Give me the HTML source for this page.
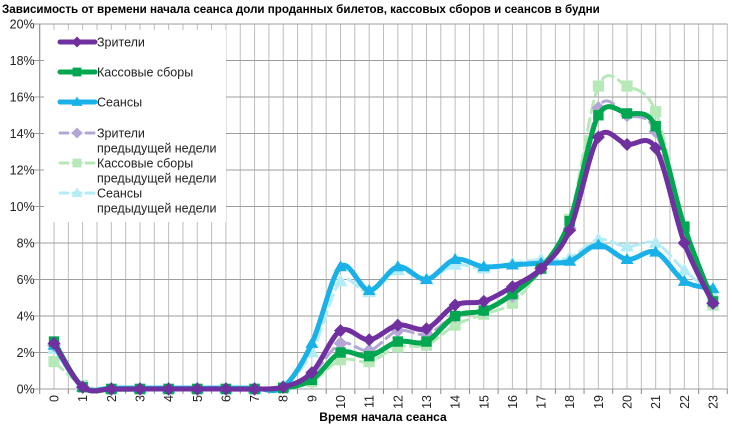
<!DOCTYPE html>
<html><head><meta charset="utf-8"><style>
html,body{margin:0;padding:0;background:#fff}
svg{display:block}
text{font-family:"Liberation Sans","DejaVu Sans",sans-serif}
</style></head><body>
<svg id="s" width="732" height="424" xmlns="http://www.w3.org/2000/svg"></svg>
<script>
const s=document.getElementById('s');
const L=39.7,R=727.3,T=24,B=389;
const cw=(R-L)/24;
const X=i=>L+cw*(i+0.5), Y=v=>B-(B-T)*v/20;
let h='';
h+='<text x="2" y="13" font-size="11.6" font-weight="bold" fill="#000">Зависимость от времени начала сеанса доли проданных билетов, кассовых сборов и сеансов в будни</text>';
for(let k=0;k<=48;k++){const x=L+k*cw/2;h+=`<line x1="${x}" y1="${T}" x2="${x}" y2="${B}" stroke="#bdbdbd" stroke-width="1"/>`;}
for(let v=0;v<=20;v+=2){const y=Y(v);h+=`<line x1="${L-6}" y1="${y}" x2="${R}" y2="${y}" stroke="#9e9e9e" stroke-width="1"/>`;
h+=`<text x="${L-5}" y="${y+4.5}" font-size="12.5" text-anchor="end" fill="#222">${v}%</text>`;}
h+=`<line x1="${L}" y1="${T}" x2="${L}" y2="${B}" stroke="#888"/>`;
for(let k=0;k<=24;k++){const x=L+k*cw;h+=`<line x1="${x}" y1="${B}" x2="${x}" y2="${B+5}" stroke="#888"/>`;}
for(let i=0;i<24;i++){h+=`<text transform="translate(${X(i)+4.5},${B+6}) rotate(-90)" font-size="12.5" text-anchor="end" fill="#222">${i}</text>`;}
h+=`<text x="383" y="421" font-size="12" font-weight="bold" text-anchor="middle" fill="#000">Время начала сеанса</text>`;
const D=[
 ['#b3ecf5',[2.2,0.2,0,0,0,0,0,0,0.2,2.0,5.9,5.3,6.5,6.0,6.8,6.6,6.9,7.1,7.2,8.2,7.8,8.0,6.5,5.2],'t',1],
 ['#b6e8b8',[1.5,0.2,0,0,0,0,0,0,0.1,0.4,1.6,1.5,2.3,2.4,3.5,4.1,4.7,6.6,9.3,16.6,16.6,15.2,8.8,4.6],'q',1],
 ['#b4a7d6',[2.4,0.1,0,0,0,0,0,0,0.1,0.8,2.5,2.1,3.2,3.0,4.0,4.3,5.1,6.6,8.8,15.4,15.0,14.1,8.0,4.7],'d',1],
 ['#1ab0e8',[2.4,0.1,0.05,0.05,0.05,0.05,0.05,0.05,0.1,2.5,6.7,5.4,6.7,6.0,7.1,6.7,6.8,6.9,7.0,7.9,7.1,7.5,5.9,5.5],'t',0],
 ['#00a650',[2.6,0.1,0,0,0,0,0,0,0.05,0.5,2.0,1.8,2.6,2.6,4.0,4.3,5.2,6.6,9.2,15.0,15.1,14.4,8.9,4.8],'q',0],
 ['#7030a0',[2.5,0.1,0,0,0,0,0,0,0.1,0.9,3.2,2.7,3.5,3.3,4.6,4.8,5.6,6.6,8.7,13.8,13.4,13.2,8.0,4.7],'d',0]
];
function path(v){const p=v.map((a,i)=>[X(i),Y(a)]);let d=`M${p[0][0]},${p[0][1]}`;
for(let i=0;i<p.length-1;i++){const p0=p[i-1]||p[i],p1=p[i],p2=p[i+1],p3=p[i+2]||p2;const t=0.16;
d+=`C${p1[0]+(p2[0]-p0[0])*t},${p1[1]+(p2[1]-p0[1])*t} ${p2[0]-(p3[0]-p1[0])*t},${p2[1]-(p3[1]-p1[1])*t} ${p2[0]},${p2[1]}`;}return d;}
function mk(t,x,y,c,sz){if(t==='d')return `<polygon points="${x},${y-sz} ${x+sz},${y} ${x},${y+sz} ${x-sz},${y}" fill="${c}"/>`;
if(t==='q')return `<rect x="${x-sz*0.8}" y="${y-sz*0.8}" width="${sz*1.6}" height="${sz*1.6}" fill="${c}"/>`;
return `<polygon points="${x},${y-sz} ${x+sz},${y+sz*0.7} ${x-sz},${y+sz*0.7}" fill="${c}"/>`;}
for(const [c,v,t,dash] of D){
 h+=`<path d="${path(v)}" fill="none" stroke="${c}" stroke-width="${dash?3:5}" ${dash?'stroke-dasharray="12,6"':''} stroke-linejoin="round" stroke-linecap="round"/>`;
 v.forEach((a,i)=>{h+=mk(t,X(i),Y(a),c,dash?7:6.5);});
}
h+=`<rect x="44" y="30" width="182" height="192" fill="#fff"/>`;
const LG=[['#7030a0','d',0,['Зрители'],42],['#00a650','q',0,['Кассовые сборы'],72],['#1ab0e8','t',0,['Сеансы'],102],
['#b4a7d6','d',1,['Зрители','предыдущей недели'],133],['#b6e8b8','q',1,['Кассовые сборы','предыдущей недели'],163],['#b3ecf5','t',1,['Сеансы','предыдущей недели'],193]];
for(const [c,t,dash,tx,y] of LG){
 h+=`<line x1="60" y1="${y}" x2="95" y2="${y}" stroke="${c}" stroke-width="${dash?3:5}" ${dash?'stroke-dasharray="8,5"':''} stroke-linecap="round"/>`;
 h+=mk(t,77,y,c,5.5);
 tx.forEach((w,j)=>{h+=`<text x="97" y="${y+4.5+j*15}" font-size="12.5" fill="#222">${w}</text>`;});
}
s.innerHTML=h;
</script>
</body></html>
